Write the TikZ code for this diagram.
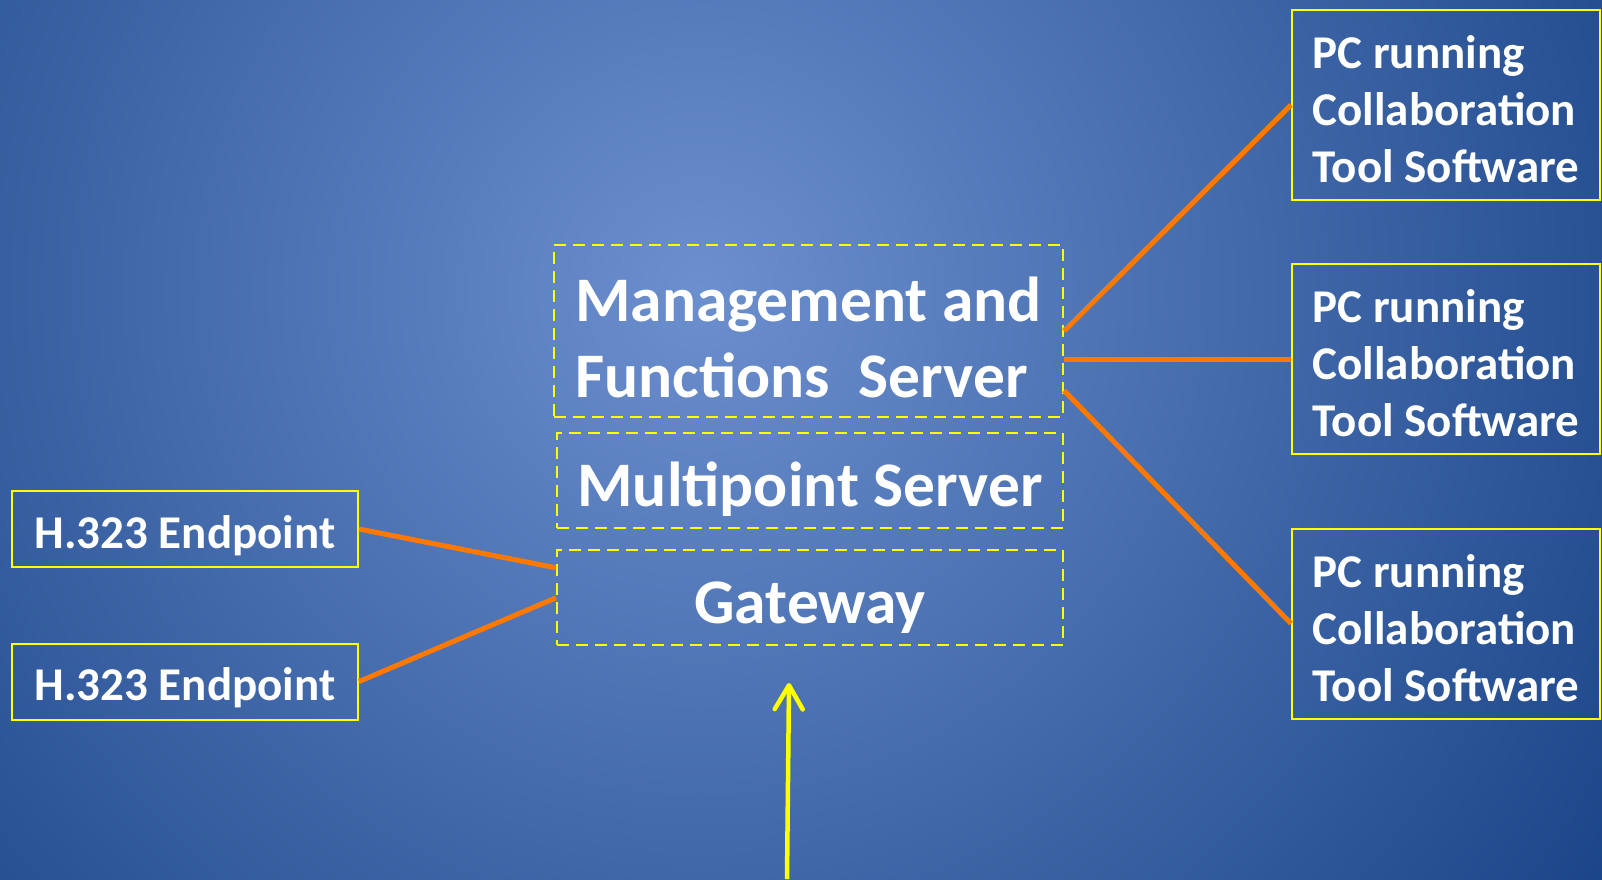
\documentclass[tikz,border=0pt]{standalone}
\usepackage{fontspec}
\setmainfont{Carlito}
\usetikzlibrary{arrows.meta,calc}
\definecolor{bgin}{RGB}{108,143,206}
\definecolor{bgout}{RGB}{25,68,135}
\definecolor{linkorange}{RGB}{255,121,0}
\definecolor{boxyellow}{RGB}{255,255,0}
\begin{document}
\begin{tikzpicture}[x=1pt,y=-1pt,
  pcbox/.style={draw=boxyellow, line width=2pt, inner sep=0pt, align=left,
    minimum width=308pt, minimum height=190pt, text=white,
    font=\fontsize{47}{57}\selectfont\bfseries},
  epbox/.style={draw=boxyellow, line width=2pt, inner sep=0pt,
    minimum width=346pt, minimum height=76pt, text=white,
    text height=38pt, text depth=0pt,
    font=\fontsize{47}{57}\selectfont\bfseries},
  srvbox/.style={draw=boxyellow, line width=2pt, dash pattern=on 12pt off 7pt,
    inner sep=0pt, align=left, minimum width=506pt, text=white,
    font=\fontsize{63.5}{76}\selectfont\bfseries},
  link/.style={draw=linkorange, line width=5pt},
  feed/.style={draw=boxyellow, line width=4.5pt,
    -{Straight Barb[length=24pt,width=28pt,round]}}
]
\useasboundingbox (0,0) rectangle (1602,879);
\fill[bgout] (0,0) rectangle (1602,879);
\begin{scope}
  \clip (0,0) rectangle (1602,879);
  \shade[inner color=bgin, outer color=bgout] (700,290) circle (1100pt);
\end{scope}

% central servers
\node[srvbox, minimum width=509pt, minimum height=172pt] (mgmt) at (808.5,331)
  {\rule{0pt}{57pt}Management and\\Functions\ \ Server};
\node[srvbox, minimum height=95pt, text height=51pt, text depth=0pt] (mps) at (810,480.5)
  {Multipoint Server};
\node[srvbox, minimum height=95pt, text height=51pt, text depth=0pt] (gw) at (810,597.8)
  {Gateway};

% endpoints
\node[epbox] (ep1) at (185,529) {H.323 Endpoint};
\node[epbox] (ep2) at (185,681.5) {H.323 Endpoint};

% PCs
\node[pcbox] (pc1) at (1446,105) {\rule{0pt}{42pt}PC running\\Collaboration\\Tool Software};
\node[pcbox] (pc2) at (1446,359) {\rule{0pt}{42pt}PC running\\Collaboration\\Tool Software};
\node[pcbox] (pc3) at (1446,623.5) {\rule{0pt}{42pt}PC running\\Collaboration\\Tool Software};

% links
\draw[link] (mgmt.east) -- (pc1.west);
\draw[link] ($(mgmt.east)+(0,28)$) -- (pc2.west);
\draw[link] ($(mgmt.east)+(0,59.5)$) -- (pc3.west);
\draw[link] (ep1.east) -- ($(gw.west)+(0,-30)$);
\draw[link] (ep2.east) -- (gw.west);

% incoming arrow
\coordinate (abot) at (787,879);
\coordinate (atip) at (789,683);
\draw[feed] (abot) -- (atip);
\end{tikzpicture}
\end{document}
